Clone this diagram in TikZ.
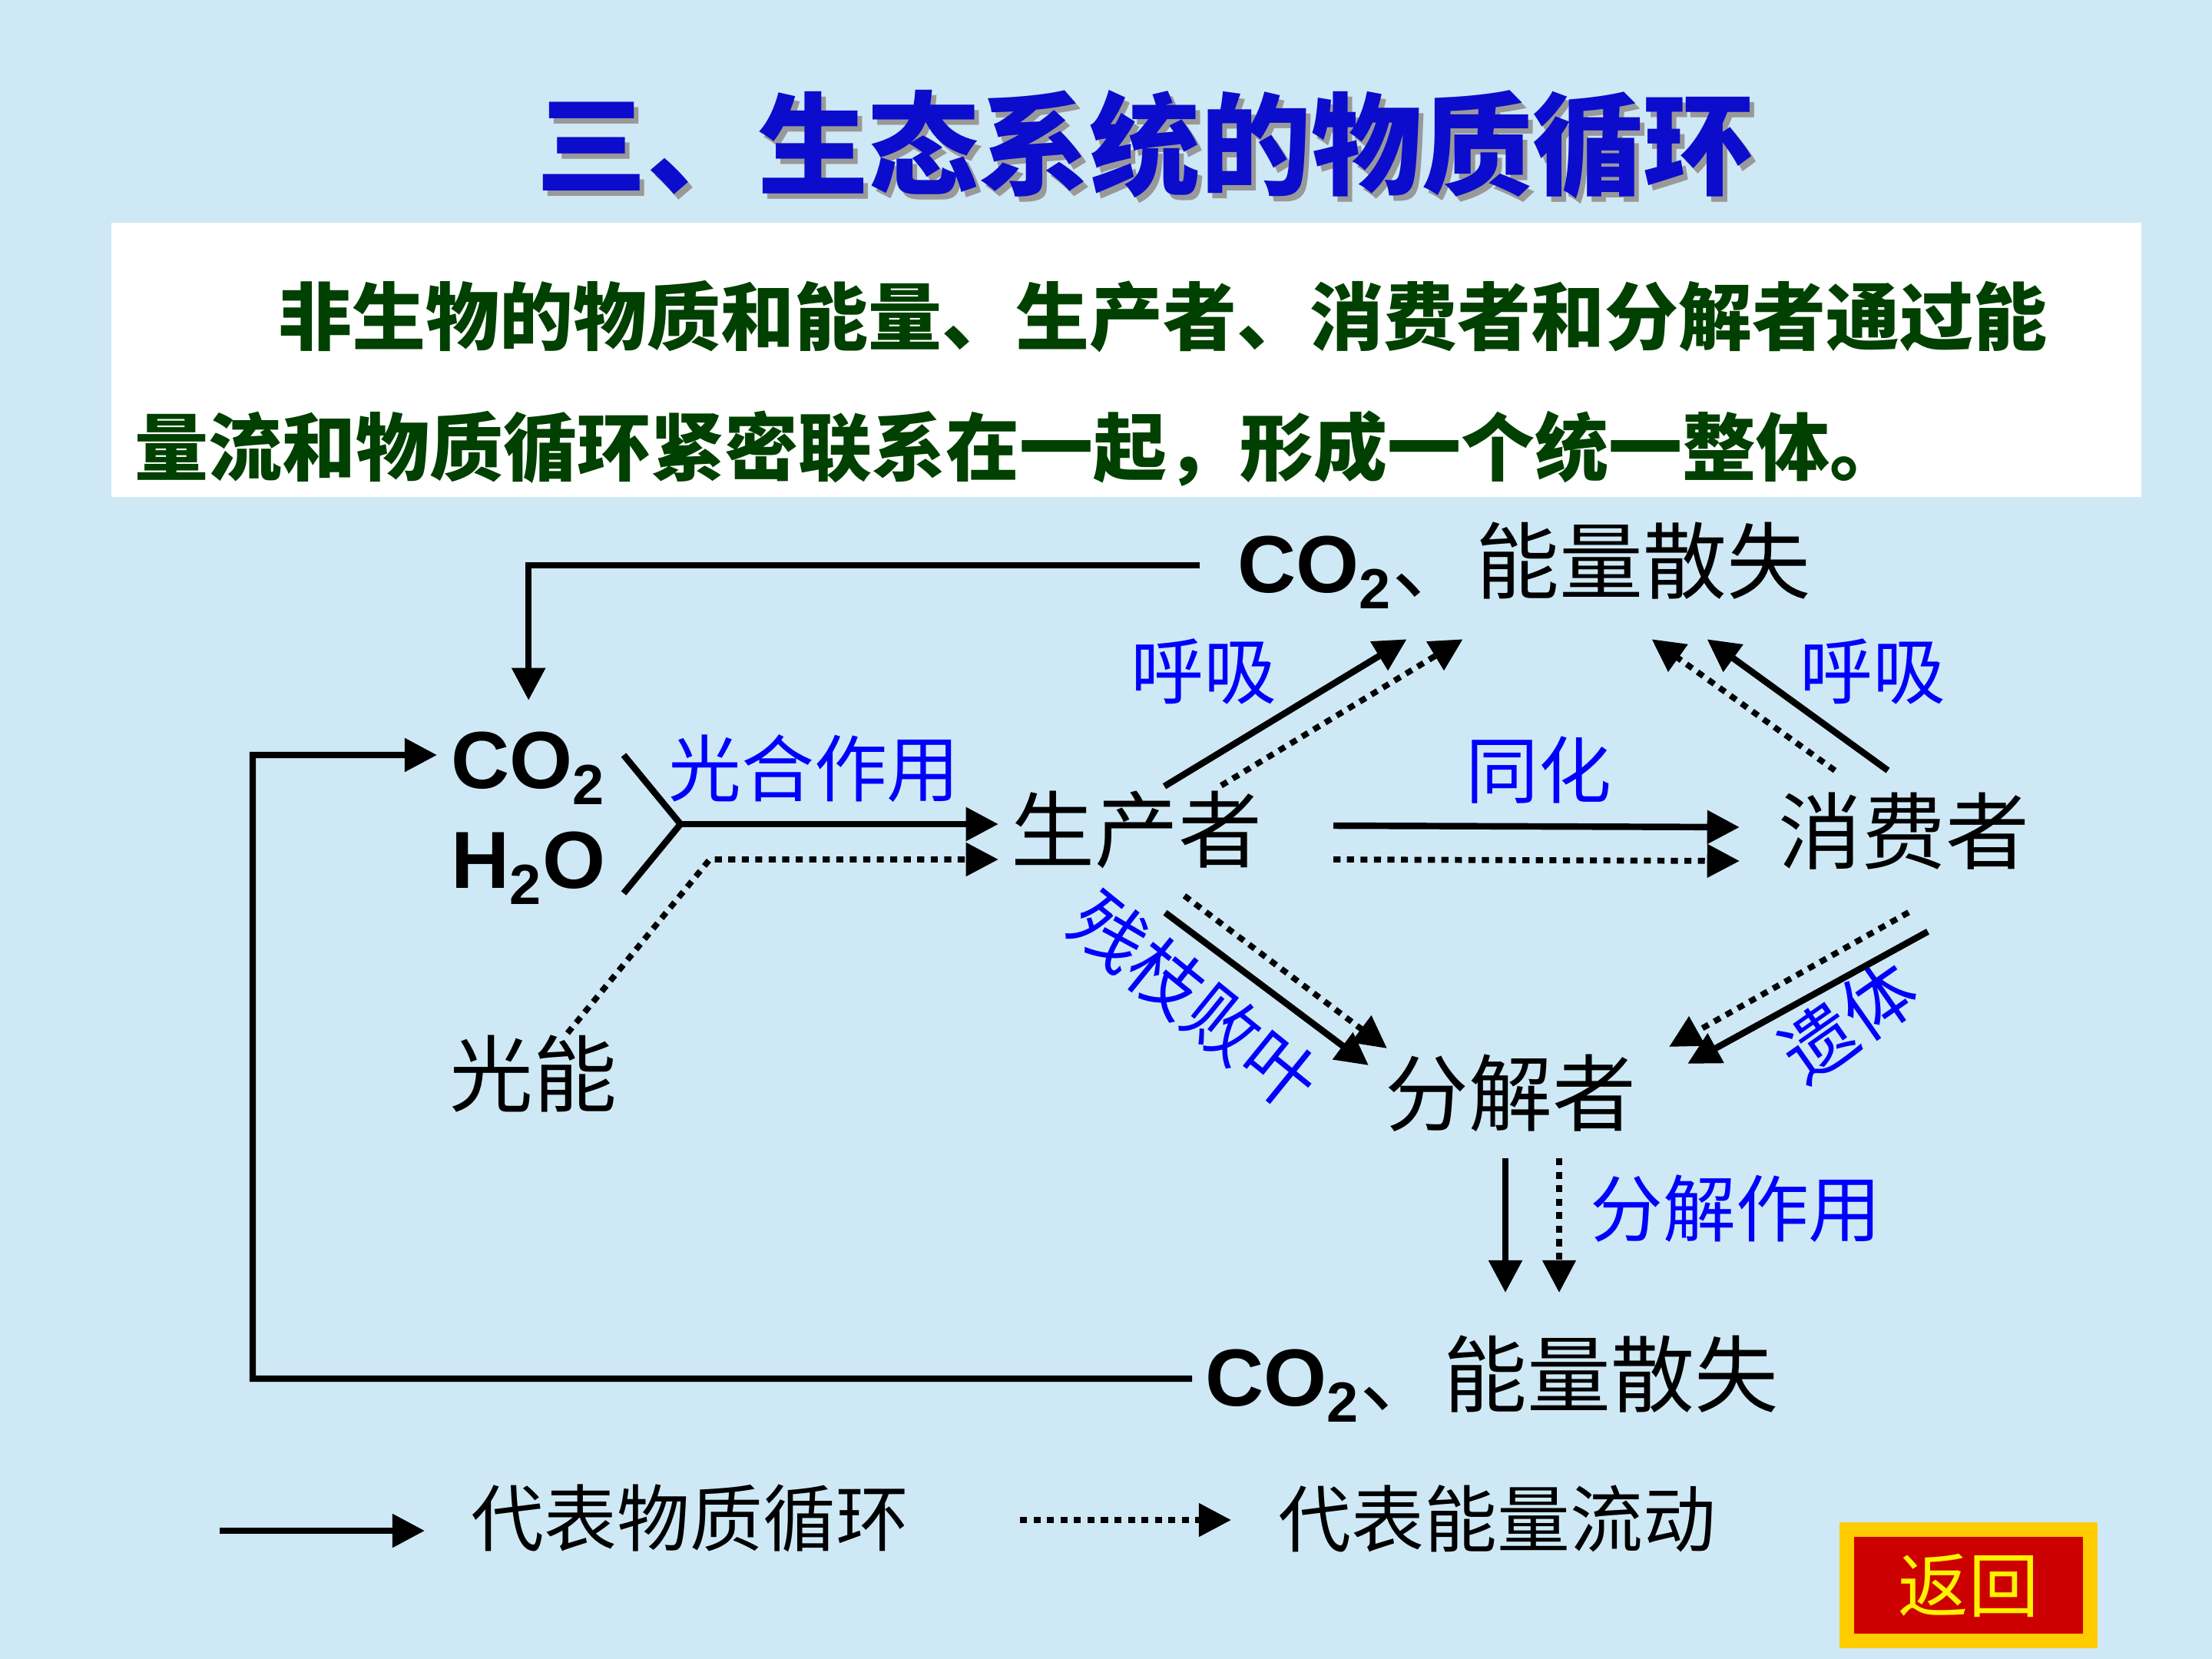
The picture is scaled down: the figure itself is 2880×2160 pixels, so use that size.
\documentclass[tikz,border=0pt]{standalone}
\usepackage{fontspec}
\setmainfont{Liberation Sans}
\newfontfamily\cjk{Noto Sans CJK SC}
\usetikzlibrary{arrows.meta}
\definecolor{slidebg}{RGB}{206,233,245}
\definecolor{titleblue}{RGB}{12,12,205}
\definecolor{textgreen}{RGB}{0,64,0}
\definecolor{labelblue}{RGB}{0,0,255}
\definecolor{btnred}{RGB}{204,0,0}
\definecolor{btngold}{RGB}{255,204,0}
\tikzset{
    >={Triangle[length=12pt,width=12pt]}, % filled triangular heads
    matter/.style={line width=2.4pt, ->},
    energy/.style={line width=2.2pt, dash pattern=on 2.6pt off 2.4pt, ->},
    bracketline/.style={line width=2.4pt},
    term/.style={font=\cjk\fontsize{31}{31}\selectfont, inner sep=1.6mm},
    chem/.style={font=\bfseries\fontsize{30}{30}\selectfont, inner sep=0pt},
    process/.style={font=\cjk\fontsize{27}{27}\selectfont, text=labelblue, inner sep=0pt},
    intro/.style={font=\cjk\bfseries\fontsize{27.3}{27.3}\selectfont, text=textgreen, inner sep=0pt},
    legendtext/.style={font=\cjk\fontsize{27}{27}\selectfont, inner sep=0pt}
}
\newcommand{\lossline}{{\bfseries\fontsize{30}{30}\selectfont CO\textsubscript{2}}{\cjk\fontsize{31}{31}\selectfont 、能量散失}}

\begin{document}
\begin{tikzpicture}[x=0.1mm, y=-0.1mm]

    % =========================================================================
    % SLIDE: background, title and intro box
    % =========================================================================
    \useasboundingbox (0,0) rectangle (2880,2160);
    \fill[slidebg] (0,0) rectangle (2880,2160);

    % Title with a grey drop shadow
    \node[font=\cjk\bfseries\fontsize{41}{41}\selectfont, text=black!40] at (1497,195) {三、生态系统的物质循环};
    \node (title) [font=\cjk\bfseries\fontsize{41}{41}\selectfont, text=titleblue] at (1491,188) {三、生态系统的物质循环};

    % White box with the two lines of text
    \fill[white] (145,290) rectangle (2788,647);
    \node (introa) [intro, anchor=west] at (362,412) {非生物的物质和能量、生产者、消费者和分解者通过能};
    \node (introb) [intro, anchor=west] at (175,584) {量流和物质循环紧密联系在一起，形成一个统一整体。};

    % =========================================================================
    % DIAGRAM: terms
    % =========================================================================
    \node (co2) [chem, anchor=west] at (587,1000) {CO\textsubscript{2}};
    \node (water) [chem, anchor=west] at (587,1130) {H\textsubscript{2}O};
    \node (light) [term] at (694,1398) {光能};
    \node (producer) [term] at (1480,1080) {生产者};
    \node (consumer) [term] at (2479,1082) {消费者};
    \node (decomp) [term] at (1967,1423) {分解者};
    \node (toploss) [anchor=west, inner sep=0pt] at (1611,736) {\lossline};
    \node (botloss) [anchor=west, inner sep=0pt] at (1569,1795) {\lossline};

    % Process labels (blue)
    \node (photo) [process] at (1060,1001) {光合作用};
    \node (assim) [process] at (2003,1003) {同化};
    \node (respa) [process] at (1567,874) {呼吸};
    \node (respb) [process] at (2438,874) {呼吸};
    \node (litter) [process, rotate=-39] at (1556,1303) {残枝败叶};
    \node (remains) [process, rotate=35] at (2407,1329) {遗体};
    \node (decay) [process] at (2260,1574) {分解作用};

    % =========================================================================
    % CONNECTORS
    % =========================================================================
    % CO2 returns from respiration (top) and decomposition (bottom)
    \draw[matter] ([xshift=-4.9mm]toploss.west) -| ([yshift=4mm]co2.north);
    \draw[matter] ([xshift=-1.7mm]botloss.west) -| (329,983) -- ([xshift=-1.8mm,yshift=1.7mm]co2.west);

    % Bracket joining CO2 and H2O, then photosynthesis
    \coordinate (fork) at (886,1073);
    \coordinate (efork) at (924,1119);
    \draw[bracketline] (812,983) -- (fork) -- (812,1163);
    \draw[matter] (fork) -- (producer.west |- fork);
    \draw[energy] ([xshift=4.5mm,yshift=-1.4mm]light.north) -- (efork) -- (producer.west |- efork);

    % Producer to consumer
    \draw[matter] ([xshift=7.6mm,yshift=0.5mm]producer.east) -- ([xshift=-3.4mm,yshift=0.5mm]consumer.west);
    \draw[energy] ([xshift=7.6mm,yshift=-3.9mm]producer.east) -- ([xshift=-3.4mm,yshift=-3.9mm]consumer.west);

    % Respiration
    \draw[matter] ([shift={(36,11)}]producer.north) -- ([shift={(-153,39)}]toploss.south);
    \draw[energy] ([shift={(110,10)}]producer.north) -- ([shift={(-80,39)}]toploss.south);
    \draw[matter] ([shift={(-21,-12)}]consumer.north) -- ([shift={(238,39)}]toploss.south);
    \draw[energy] ([shift={(-90,-12)}]consumer.north) -- ([shift={(166,39)}]toploss.south);

    % Litter and remains to decomposers
    \draw[matter] ([shift={(37,41)}]producer.south) -- ([shift={(-5,31)}]decomp.north west);
    \draw[energy] ([shift={(62,19)}]producer.south) -- ([shift={(19,9)}]decomp.north west);
    \draw[matter] ([shift={(31,64)}]consumer.south) -- ([shift={(50,29)}]decomp.north east);
    \draw[energy] ([shift={(6,39)}]consumer.south) -- ([shift={(26,7)}]decomp.north east);

    % Decomposition
    \draw[matter] ([shift={(-7,18)}]decomp.south) -- ([shift={(-7,1683)}]decomp.south |- 0,0);
    \draw[energy] ([shift={(63,18)}]decomp.south) -- ([shift={(63,1683)}]decomp.south |- 0,0);

    % =========================================================================
    % LEGEND and return button
    % =========================================================================
    \node (legmatter) [legendtext, anchor=west] at (613,1977) {代表物质循环};
    \node (legenergy) [legendtext, anchor=west] at (1664,1977) {代表能量流动};
    \draw[matter] ([xshift=-32.7mm,yshift=-1.6mm]legmatter.west) -- ([xshift=-6mm,yshift=-1.6mm]legmatter.west);
    \draw[energy] ([xshift=-33.6mm,yshift=-0.2mm]legenergy.west) -- ([xshift=-6.1mm,yshift=-0.2mm]legenergy.west);

    \node (back) [draw=btngold, line width=1.9mm, fill=btnred, text=yellow,
        minimum width=31.75mm, minimum height=14.45mm, inner sep=0pt,
        font=\cjk\fontsize{26}{26}\selectfont] at (2563,2064) {返回};
\end{tikzpicture}
\end{document}
